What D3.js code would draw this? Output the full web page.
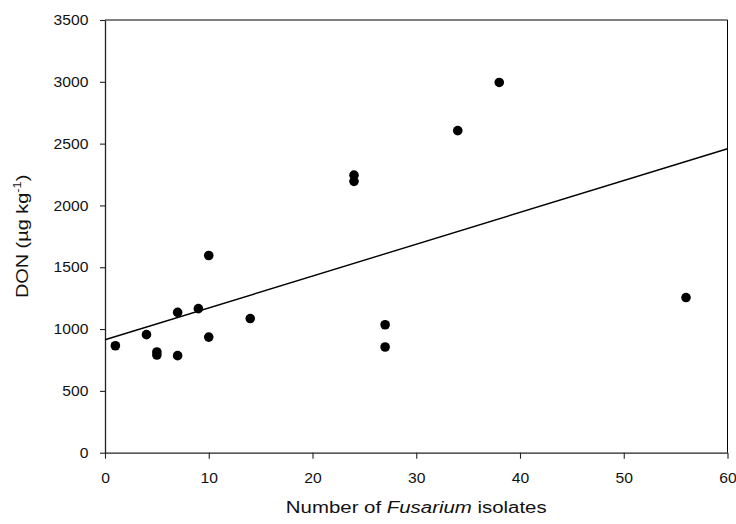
<!DOCTYPE html>
<html>
<head>
<meta charset="utf-8">
<script src="https://cdn.jsdelivr.net/npm/d3@7"></script>
<style>
  html, body { margin: 0; padding: 0; background: #fff; }
  svg { display: block; }
  text { font-family: "Liberation Sans", Arial, Helvetica, sans-serif; fill: #111; }
</style>
</head>
<body>
<svg id="chart" width="736" height="524"></svg>
<script>
// ---- data ----
const isolates = [1, 4, 5, 5, 7, 7, 9, 10, 10, 14, 24, 24, 27, 27, 34, 38, 56];
const donValues = [865, 955, 815, 790, 1135, 785, 1165, 1595, 935, 1085, 2245, 2195, 1035, 855, 2605, 2995, 1255];
const xTicks = [0, 10, 20, 30, 40, 50, 60];
const yTicks = [0, 500, 1000, 1500, 2000, 2500, 3000, 3500];
const xDomain = [0, 60];
const yDomain = [0, 3500];

// ---- layout ----
const plotL = 105, plotR = 727.5, plotT = 20, plotB = 452.7;
const sx = 1.12;

const svg = d3.select("#chart");
const x = d3.scaleLinear().domain(xDomain).range([plotL, plotR]);
const y = d3.scaleLinear().domain(yDomain).range([plotB, plotT]);

// frame (top & right)
svg.append("line").attr("x1", plotL).attr("x2", plotR).attr("y1", plotT).attr("y2", plotT)
  .attr("stroke", "#000").attr("stroke-width", 1);
svg.append("line").attr("x1", plotR).attr("x2", plotR).attr("y1", plotT).attr("y2", plotB)
  .attr("stroke", "#000").attr("stroke-width", 1);

// x axis
const gx = svg.append("g").attr("transform", `translate(0,${plotB})`)
  .call(d3.axisBottom(x).tickValues(xTicks).tickSize(6).tickSizeOuter(0).tickFormat(d3.format("d")));
// y axis
const gy = svg.append("g").attr("transform", `translate(${plotL},0)`)
  .call(d3.axisLeft(y).tickValues(yTicks).tickSize(5).tickSizeOuter(0).tickFormat(d3.format("d")));

[gx, gy].forEach(g => {
  g.select(".domain").attr("stroke", "#222").attr("stroke-width", 1.3);
  g.selectAll(".tick line").attr("stroke", "#222").attr("stroke-width", 1.1);
  g.selectAll(".tick text").attr("font-size", "14px")
    .attr("font-family", "Liberation Sans, Arial, sans-serif").attr("fill", "#111");
});
gx.selectAll(".tick text").attr("y", 30.5).attr("dy", null)
  .attr("transform", `scale(${sx},1)`);
gy.selectAll(".tick text").attr("x", -14.8).attr("dy", null).attr("y", 4.7)
  .attr("transform", `scale(${sx},1)`);

// regression line (least squares fit of data)
const n = isolates.length;
const mx = d3.mean(isolates), my = d3.mean(donValues);
let sxy = 0, sxx = 0;
for (let i = 0; i < n; i++) { sxy += (isolates[i] - mx) * (donValues[i] - my); sxx += (isolates[i] - mx) ** 2; }
const slope = sxy / sxx, intercept = my - slope * mx;
svg.append("line")
  .attr("x1", x(xDomain[0])).attr("y1", y(intercept + slope * xDomain[0]))
  .attr("x2", x(xDomain[1])).attr("y2", y(intercept + slope * xDomain[1]))
  .attr("stroke", "#000").attr("stroke-width", 1.4);

// points
svg.append("g").selectAll("circle")
  .data(isolates.map((v, i) => [v, donValues[i]]))
  .join("circle")
  .attr("cx", d => x(d[0])).attr("cy", d => y(d[1])).attr("r", 4.8)
  .attr("fill", "#000");

// axis titles
const xt = svg.append("text")
  .attr("transform", `translate(${(plotL + plotR) / 2},513) scale(1.18,1)`)
  .attr("text-anchor", "middle").attr("font-size", "17.3px");
xt.append("tspan").text("Number of ");
xt.append("tspan").attr("font-style", "italic").text("Fusarium");
xt.append("tspan").text(" isolates");

const yt = svg.append("text")
  .attr("transform", `translate(27.5,${(plotT + plotB) / 2}) rotate(-90) scale(1.17,1)`)
  .attr("text-anchor", "middle").attr("font-size", "17px");
yt.append("tspan").text("DON (µg kg");
yt.append("tspan").attr("font-size", "11px").attr("dy", "-7").text("-1");
yt.append("tspan").attr("dy", "7").text(")");
</script>
</body>
</html>
